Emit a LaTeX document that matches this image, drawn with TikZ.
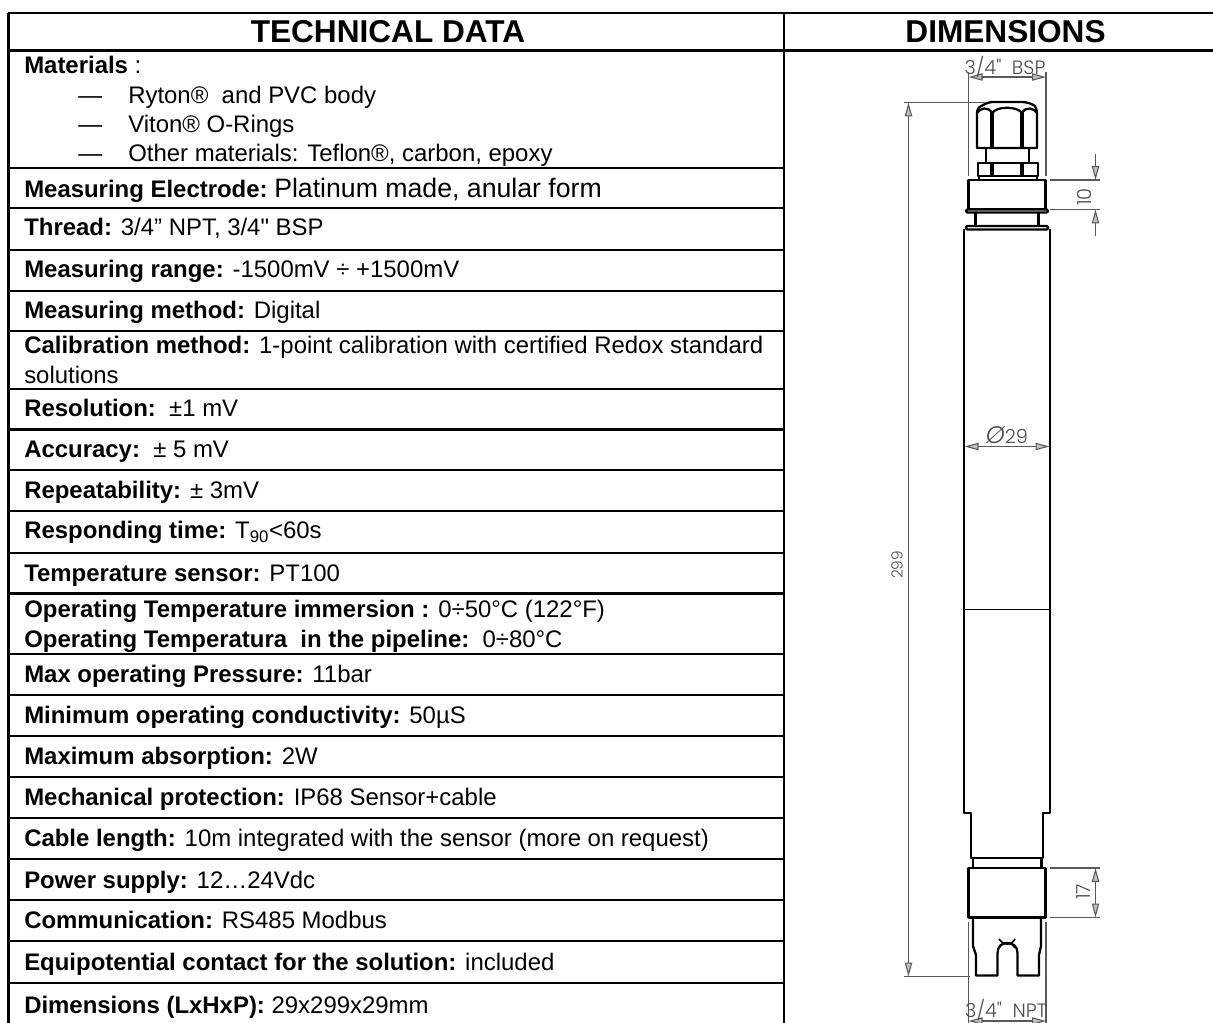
\documentclass[tikz,border=0pt]{standalone}
\usepackage{fontspec}
\setmainfont{Liberation Sans}
\newfontfamily\dimfont{Poppins Light}
\usetikzlibrary{arrows.meta}
\tikzset{
  rowtext/.style={anchor=base west,inner sep=0pt,font=\fontsize{17.95}{21}\selectfont},
  headtext/.style={anchor=base,inner sep=0pt,font=\fontsize{23.7}{28}\selectfont\bfseries},
  dimtext/.style={inner sep=0pt,text=black!70,font=\fontsize{14.5}{16}\dimfont},
  rule/.style={line width=1.9pt},
  part/.style={line width=1.7pt,line join=round},
  partthin/.style={line width=1.2pt},
  dimline/.style={draw=black!65,line width=0.8pt},
  dimarrow/.style={dimline,{Triangle[length=10.5pt,width=5.5pt,open,fill=black!25]}-{Triangle[length=10.5pt,width=5.5pt,open,fill=black!25]}},
  dimhead/.style={dimline,-{Triangle[length=10.5pt,width=5.5pt,open,fill=black!25]}}
}
\begin{document}
\begin{tikzpicture}[x=0.75pt,y=-0.75pt]
    \useasboundingbox (0,0) rectangle (1213,1023);
    % table
    \draw[rule] (8.5,1023) -- (8.5,13) (8,13) -- (1213,13) (8,50.5) -- (1213,50.5) (784,13) -- (784,1023);
    \foreach \rowy in {168,208,250,291,331,389,429.5,470,511,553,593.5,654,695,736,777,818,859,900,941,983}
      \draw[rule] (8,\rowy) -- (784,\rowy);
    % headings
    \node[headtext] (techhead) at (388,42.5) {TECHNICAL DATA};
    \node[headtext] (dimhead) at (1005.5,42.5) {DIMENSIONS};
    % rows
    \node[rowtext] (materials) at (24,74) {\textbf{Materials} :};
    \node[rowtext] (dashone) at (78,104) {—};
    \node[rowtext] (ryton) at (128,104) {Ryton®\ \ and PVC body};
    \node[rowtext] (dashtwo) at (78,133) {—};
    \node[rowtext] (viton) at (128,133) {Viton® O-Rings};
    \node[rowtext] (dashthree) at (78,162) {—};
    \node[rowtext] (other) at (128,162) {Other materials: Teflon®, carbon, epoxy};
    \node[rowtext] (electrode) at (24,197.5) {\textbf{Measuring Electrode:}\ \fontsize{20}{22}\selectfont Platinum made, anular form};
    \node[rowtext] (thread) at (24,236) {\textbf{Thread:} 3/4” NPT, 3/4\textquotedbl\ BSP};
    \node[rowtext] (range) at (24,277.5) {\textbf{Measuring range:} -1500mV ÷ +1500mV};
    \node[rowtext] (method) at (24,318.5) {\textbf{Measuring method:} Digital};
    \node[rowtext] (calibone) at (24,353.5) {\textbf{Calibration method:} 1-point calibration with certified Redox standard};
    \node[rowtext] (calibtwo) at (24,383) {solutions};
    \node[rowtext] (resolution) at (24,416.5) {\textbf{Resolution:}\ \ ±1 mV};
    \node[rowtext] (accuracy) at (24,457) {\textbf{Accuracy:}\ \ ± 5 mV};
    \node[rowtext] (repeat) at (24,498) {\textbf{Repeatability:} ± 3mV};
    \node[rowtext] (responding) at (24,538.5) {\textbf{Responding time:} T\textsubscript{90}<60s};
    \node[rowtext] (tempsensor) at (24,581) {\textbf{Temperature sensor:} PT100};
    \node[rowtext] (tempone) at (24,617) {\textbf{Operating Temperature immersion :} 0÷50°C (122°F)};
    \node[rowtext] (temptwo) at (24,647) {\textbf{Operating Temperatura\ \ in the pipeline:}\ \ 0÷80°C};
    \node[rowtext] (pressure) at (24,682) {\textbf{Max operating Pressure:} 11bar};
    \node[rowtext] (conduct) at (24,723) {\textbf{Minimum operating conductivity:} 50µS};
    \node[rowtext] (absorb) at (24,764) {\textbf{Maximum absorption:} 2W};
    \node[rowtext] (protect) at (24,805) {\textbf{Mechanical protection:} IP68 Sensor+cable};
    \node[rowtext] (cable) at (24,846) {\textbf{Cable length:} 10m integrated with the sensor (more on request)};
    \node[rowtext] (power) at (24,888) {\textbf{Power supply:} 12…24Vdc};
    \node[rowtext] (comm) at (24,928) {\textbf{Communication:} RS485 Modbus};
    \node[rowtext] (equi) at (24,970) {\textbf{Equipotential contact for the solution:} included};
    \node[rowtext] (size) at (24,1013) {\textbf{Dimensions (LxHxP):} 29x299x29mm};
    % sensor, cap
    \draw[part] (977,148) -- (977,113) .. controls (977,108) and (980,106) .. (983,105) .. controls (987,103) and (990,102) .. (992,102) -- (1022,102) .. controls (1027,102) and (1032,104) .. (1035,106) .. controls (1036,108) and (1037,110) .. (1037,113) -- (1037,148) -- cycle;
    \draw[part] (977,113) .. controls (980,108) and (988,106) .. (992,113) .. controls (997,106) and (1017,106) .. (1022,113) .. controls (1026,106) and (1034,108) .. (1037,113);
    \draw[line width=2.6pt] (992,113) -- (992,148) (1022,113) -- (1022,148);
    \draw[part] (986,148) -- (986,163) (1029,148) -- (1029,163);
    \draw[part] (978,163) rectangle (1038,176);
    \draw[line width=2.6pt] (992,163) -- (992,176) (1022,163) -- (1022,176);
    \draw[part] (979,176) -- (979,180) (1037,176) -- (1037,180);
    % sensor, body
    \draw[part] (968.5,180) rectangle (1045.5,209.5);
    \draw[part,rounded corners=1pt,fill=white] (966,209.5) rectangle (1048,212.5);
    \draw[part] (975.5,212.5) -- (975.5,226) (1038.5,212.5) -- (1038.5,226);
    \draw[part,rounded corners=1pt,fill=white] (966,226) rectangle (1048,229.5);
    \draw[part] (964,229.5) -- (964,813) -- (971,813) -- (971,858) -- (1043,858) -- (1043,813) -- (1050,813) -- (1050,229.5);
    \draw[partthin] (964,609.5) -- (1050,609.5);
    % sensor, tip
    \draw[part] (973,858) -- (973,868) (1041.5,858) -- (1041.5,868);
    \draw[part] (968.5,868) rectangle (1045.5,917.5);
    \draw[part] (973,917.5) -- (973,946) -- (976,955) -- (976,975.5) -- (997.5,975.5) -- (997.5,953) .. controls (997.5,946) and (1002,943) .. (1007,943) .. controls (1013,943) and (1017.5,946) .. (1017.5,953) -- (1017.5,975.5) -- (1039,975.5) -- (1039,955) -- (1041,946) -- (1041,917.5);
    \draw[partthin] (999,939) .. controls (1004,946) and (1011,946) .. (1015,939);
    \draw[partthin] (999,948) .. controls (1003,941) and (1011,941) .. (1015,948);
    % dimension points
    \coordinate (bspa) at (968.5,77);
    \coordinate (bspb) at (1046,77);
    \coordinate (npta) at (968.5,1021);
    \coordinate (nptb) at (1046,1021);
    \coordinate (lena) at (908.5,102.5);
    \coordinate (lenb) at (908.5,976.5);
    \coordinate (diaa) at (964.5,446.5);
    \coordinate (diab) at (1049.5,446.5);
    \coordinate (tena) at (1095.5,180);
    \coordinate (tenb) at (1095.5,209.5);
    \coordinate (tenc) at (1095.5,154);
    \coordinate (tend) at (1095.5,236);
    \coordinate (sevena) at (1095.5,868);
    \coordinate (sevenb) at (1095.5,917.5);
    % dimensions
    \draw[dimarrow] (bspa) -- (bspb);
    \draw[dimline] (968.5,72) -- (968.5,176) (1046,72) -- (1046,176);
    \draw[dimarrow] (npta) -- (nptb);
    \draw[dimline] (968.5,922) -- (968.5,1023) (1046,922) -- (1046,1023);
    \draw[dimarrow] (lena) -- (lenb);
    \draw[dimline] (904,102.5) -- (985,102.5) (904,976.5) -- (970,976.5);
    \draw[dimarrow] (diaa) -- (diab);
    \draw[dimhead] (tenc) -- (tena);
    \draw[dimhead] (tend) -- (tenb);
    \draw[dimline] (1050,180) -- (1100,180) (1050,209.5) -- (1100,209.5);
    \draw[dimarrow] (sevena) -- (sevenb);
    \draw[dimline] (1050,868) -- (1100,868) (1050,917.5) -- (1100,917.5);
    \node[dimtext] (bsplabel) at (1005,67) {3/4\textquotedbl\ \ BSP};
    \node[dimtext] (nptlabel) at (1006,1010) {3/4\textquotedbl\ \ NPT};
    \node[dimtext,rotate=90,font=\fontsize{11.5}{14}\dimfont] (lenlabel) at (897,565) {299};
    \node[dimtext] (dialabel) at (1007,435) {{\fontsize{18}{18}\selectfont\itshape Ø}29};
    \node[dimtext,rotate=90] (tenlabel) at (1084,197) {10};
    \node[dimtext,rotate=90] (sevenlabel) at (1084,892) {17};
\end{tikzpicture}
\end{document}
